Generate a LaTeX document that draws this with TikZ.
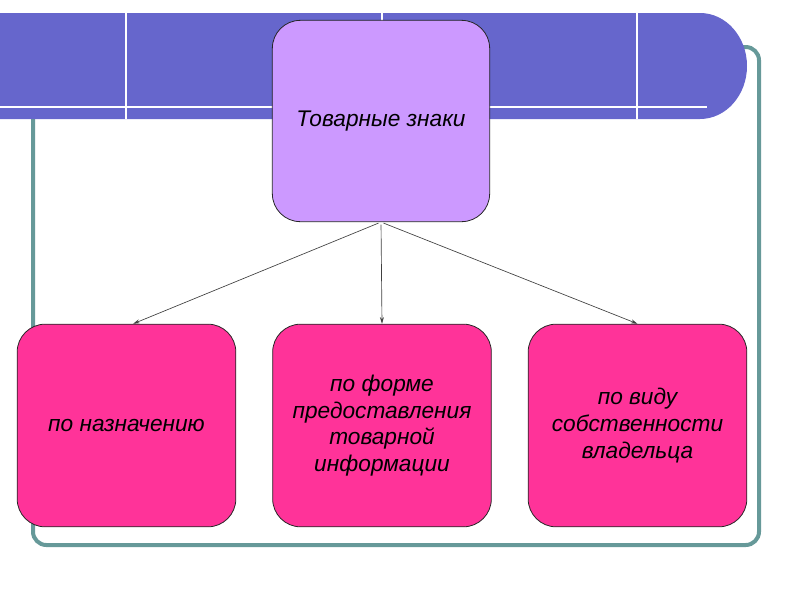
\documentclass[tikz,border=0pt]{standalone}
\usepackage{fontspec}
\setmainfont{Liberation Sans}
\usetikzlibrary{arrows.meta}
\definecolor{barblue}{RGB}{102,102,204}
\definecolor{frameteal}{RGB}{102,153,153}
\definecolor{toplilac}{RGB}{204,153,255}
\definecolor{boxpink}{RGB}{255,51,153}
\begin{document}
\begin{tikzpicture}[x=0.75pt,y=-0.75pt,
    box/.style={draw=black!85, line width=0.6pt, rounded corners=21pt,
      minimum width=164pt, minimum height=152pt, align=center,
      font=\itshape\fontsize{17}{20}\selectfont},
    link/.style={draw=black!75, line width=0.5pt, -{Stealth[length=5pt,width=3pt]}, shorten <=2pt}]
  \useasboundingbox (0,0) rectangle (800,600);
  % frame and banner
  \draw[frameteal, line width=3pt, rounded corners=10pt] (33,47) rectangle (759,545);
  \fill[barblue] (0,13) -- (700,13) arc[start angle=-90, end angle=90, x radius=47, y radius=53] -- (0,119) -- cycle;
  \draw[white, line width=2pt] (0,107) -- (707,107);
  \foreach \x in {126,382,637}
    \draw[white, line width=2pt] (\x,13) -- (\x,119);
  % boxes
  \draw
    (381,121) node[box, fill=toplilac, minimum width=163pt, minimum height=151pt] (0){Товарные знаки}
    (126.5,425.5) node[box, fill=boxpink] (1){по назначению}
    (382,425.5) node[box, fill=boxpink] (2){по форме\\предоставления\\товарной\\информации}
    (637.5,425.5) node[box, fill=boxpink] (3){по виду\\собственности\\владельца};
  \begin{scope}[link]
    \draw (0.south) to ([xshift=5pt]1.north);
    \draw (0.south) to (2.north);
    \draw (0.south) to (3.north);
  \end{scope}
\end{tikzpicture}
\end{document}
